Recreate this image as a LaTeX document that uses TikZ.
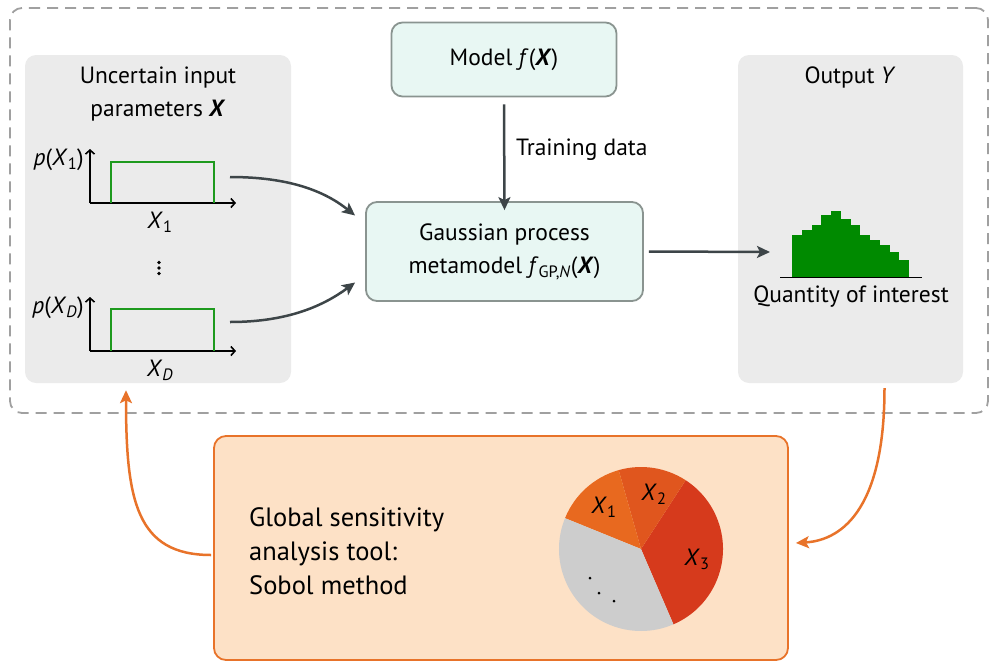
\documentclass[tikz,border=0pt]{standalone}
\usepackage{fontspec}
\setmainfont{PT Sans}
\usetikzlibrary{arrows.meta,calc}
\definecolor{panelgray}{HTML}{EBEBEB}
\definecolor{cyanfill}{HTML}{E8F7F3}
\definecolor{boxborder}{HTML}{8A9490}
\definecolor{darkarrow}{HTML}{3D4548}
\definecolor{orangeline}{HTML}{E8732A}
\definecolor{orangefill}{HTML}{FDE1C6}
\definecolor{histgreen}{HTML}{008A00}
\definecolor{pdfgreen}{HTML}{1E9A1E}
\definecolor{pieA}{HTML}{E8691F}
\definecolor{pieB}{HTML}{E0561E}
\definecolor{pieC}{HTML}{D63A1C}
\definecolor{pieD}{HTML}{CDCDCD}
\definecolor{dashgray}{HTML}{A0A0A0}
\newcommand{\vX}{\textbf{\textit{X}}}
\tikzset{
  txt/.style={font=\fontsize{23.5}{33}\selectfont, inner sep=0pt},
  panel/.style={fill=panelgray, rounded corners=11pt, inner sep=0pt},
  cyanbox/.style={fill=cyanfill, draw=boxborder, line width=1.8pt, rounded corners=11pt, inner sep=0pt, align=center, font=\fontsize{23.5}{33}\selectfont},
  orangebox/.style={fill=orangefill, draw=orangeline, line width=1.8pt, rounded corners=12pt, inner sep=0pt},
  darr/.style={draw=darkarrow, line width=2.5pt, -{Stealth[length=13pt,width=12pt,inset=3pt]}},
  oarr/.style={draw=orangeline, line width=2.5pt, -{Stealth[length=13pt,width=12pt,inset=3pt]}},
  axis/.style={draw=black, line width=1.6pt, -{Straight Barb[length=4pt,width=9pt]}},
  pdf/.style={draw=pdfgreen, line width=2pt},
}
\begin{document}
\begin{tikzpicture}[x=1pt,y=-1pt]
\useasboundingbox (0,0) rectangle (996,662);
% outer dashed frame
\node[draw=dashgray, line width=1.8pt, dash pattern=on 11pt off 7pt, rounded corners=12pt, minimum width=978pt, minimum height=405pt, inner sep=0pt] (frame) at (499,210.5) {};
% panels
\node[panel, minimum width=266pt, minimum height=328pt] (left) at (158,219) {};
\node[panel, minimum width=225pt, minimum height=328pt] (right) at (850.5,219) {};
% boxes
\node[cyanbox, minimum width=225pt, minimum height=74pt] (model) at (504,59.5) {Model \textit{f}(\vX)};
\node[cyanbox, minimum width=277pt, minimum height=99pt] (gp) at (504.5,251.5) {Gaussian process\\metamodel \textit{f}\textsubscript{GP,\textit{N}}(\vX)};
\node[orangebox, minimum width=574pt, minimum height=224pt] (sobol) at (501,548) {};
% left panel content
\node[txt, align=center] (lefttitle) at (158,94) {Uncertain input\\parameters \vX};
\draw[axis] (90,203) -- (90,149);
\draw[axis] (90,203) -- (236,203);
\draw[pdf] (111,203) -- (111,162) -- (214,162) -- (214,203);
\node[txt, anchor=east] (p1) at (84,160) {\textit{p}(\textit{X}\textsubscript{1})};
\node[txt] (x1) at (160,222) {\textit{X}\textsubscript{1}};
\fill (159,262.5) circle (1.8pt) (159,268) circle (1.8pt) (159,273.5) circle (1.8pt);
\draw[axis] (90,351) -- (90,297);
\draw[axis] (90,351) -- (236,351);
\draw[pdf] (111,351) -- (111,309) -- (214,309) -- (214,351);
\node[txt, anchor=east] (pD) at (84,308) {\textit{p}(\textit{X}\textsubscript{\textit{D}})};
\node[txt] (xD) at (160,370) {\textit{X}\textsubscript{\textit{D}}};
\coordinate (p1out) at (230,177);
\coordinate (pDout) at (230,322);
% right panel content
\node[txt] (outtitle) at (850,77) {Output \textit{Y}};
\foreach \i/\t in {0/235,1/230,2/224.7,3/215,4/211,5/219,6/224.7,7/235,8/240,9/245,10/252,11/260}{
  \fill[histgreen] ({792+\i*9.75},277) rectangle ({792+(\i+1)*9.75},\t);
}
\draw[black, line width=1.3pt] (780,277.5) -- (922,277.5);
\node[txt] (qoi) at (851,297) {Quantity of interest};
\coordinate (histin) at (770,252);
% sobol box content
\node[txt, align=left, anchor=west, font=\fontsize{26.5}{34}\selectfont] (sobtxt) at (249,551) {Global sensitivity\\analysis tool:\\Sobol method};
\begin{scope}[shift={(641,549)}]
  \fill[pieC] (0,0) -- (-66.7:82pt) arc[start angle=-66.7, end angle=57, radius=82pt] -- cycle;
  \fill[pieB] (0,0) -- (57:82pt) arc[start angle=57, end angle=105.8, radius=82pt] -- cycle;
  \fill[pieA] (0,0) -- (105.8:82pt) arc[start angle=105.8, end angle=157.9, radius=82pt] -- cycle;
  \fill[pieD] (0,0) -- (157.9:82pt) arc[start angle=157.9, end angle=293.3, radius=82pt] -- cycle;
\end{scope}
\node[txt] (s1) at (604,507) {\textit{X}\textsubscript{1}};
\node[txt] (s2) at (654,494) {\textit{X}\textsubscript{2}};
\node[txt] (s3) at (697,559) {\textit{X}\textsubscript{3}};
\fill (590,578) circle (1.5pt) (599,593) circle (1.5pt) (614,601) circle (1.5pt);
% connectors
\draw[darr] (model.south) ++(0,7) -- ([yshift=-9pt]gp.north);
\node[txt, anchor=west] (train) at (516,150) {Training data};
\draw[darr] (p1out) .. controls +(60,0) and +(-30,-24) .. ([shift={(-10,-36)}]gp.west);
\draw[darr] (pDout) .. controls +(60,0) and +(-30,22) .. ([shift={(-10,31)}]gp.west);
\draw[darr] ([xshift=5pt]gp.east) -- (histin);
\draw[oarr] ([shift={(-2,7)}]sobol.west) .. controls +(-75,0) and +(0,110) .. ([shift={(-32,7)}]left.south);
\draw[oarr] ([shift={(34,5)}]right.south) .. controls +(0,115) and +(50,-3) .. ([shift={(7,-5)}]sobol.east);
\end{tikzpicture}
\end{document}
